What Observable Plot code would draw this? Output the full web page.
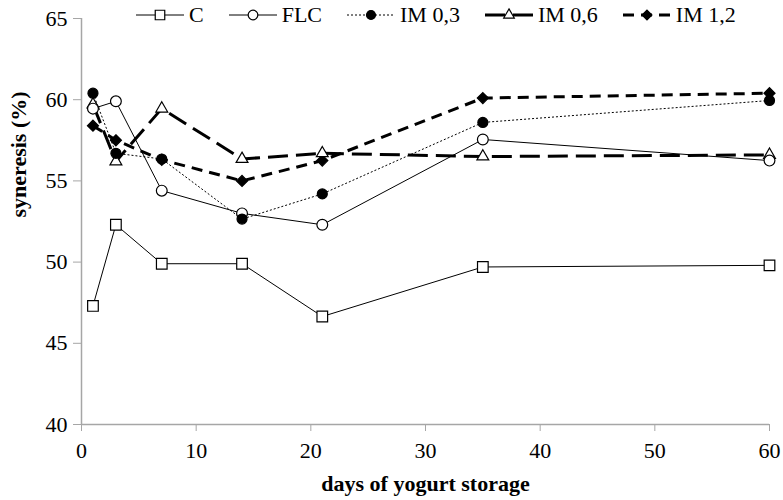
<!DOCTYPE html>
<html><head><meta charset="utf-8">
<script src="https://cdn.jsdelivr.net/npm/d3@7"></script>
<script src="https://cdn.jsdelivr.net/npm/@observablehq/plot@0.6"></script>
<style>
body{margin:0;background:#fff;}
#wrap{position:relative;width:783px;height:500px;font-family:"Liberation Serif","Times New Roman",serif;}
#legend{position:absolute;top:0;left:136px;height:30px;display:flex;align-items:center;font-size:22px;color:#000;}
#legend .item{display:flex;align-items:center;margin-right:25px;}
#legend .item span{margin-left:5px;line-height:30px;}
#wrap svg text{fill:#000 !important;font-family:"Liberation Serif","Times New Roman",serif !important;font-size:22px !important;}
</style></head><body><div id="wrap"></div>
<script>
// ---- data ----
const days = [1, 3, 7, 14, 21, 35, 60];
const seriesNames = ["C", "FLC", "IM 0,3", "IM 0,6", "IM 1,2"];
const valC    = [47.3, 52.3, 49.9, 49.9, 46.65, 49.7, 49.8];
const valFLC  = [59.45, 59.9, 54.4, 53.0, 52.3, 57.55, 56.25];
const valIM03 = [60.4, 56.7, 56.35, 52.65, 54.2, 58.6, 59.95];
const valIM06 = [59.7, 56.2, 59.45, 56.35, 56.7, 56.5, 56.6];
const valIM12 = [58.4, 57.5, 56.3, 55.0, 56.25, 60.1, 60.4];
const xTicks = [0, 10, 20, 30, 40, 50, 60];
const yTicks = [40, 45, 50, 55, 60, 65];
const xTitle = "days of yogurt storage";
const yTitle = "syneresis (%)";

const values = [valC, valFLC, valIM03, valIM06, valIM12];
const rows = [];
seriesNames.forEach((s, k) => days.forEach((d, i) => rows.push({series: s, day: d, value: values[k][i]})));

// custom diamond (rotated square)
const diamond = {draw(ctx, size) {
  const h = Math.sqrt(size / 2);
  ctx.moveTo(0, -h); ctx.lineTo(h, 0); ctx.lineTo(0, h); ctx.lineTo(-h, 0); ctx.closePath();
}};

const styles = {
  "C":      {sw: 1, dash: null,   symbol: "square",   r: 6.0, fill: "white"},
  "FLC":    {sw: 1, dash: null,   symbol: "circle",   r: 5.4, fill: "white"},
  "IM 0,3": {sw: 1, dash: "2,2",  symbol: "circle",   r: 5.0, fill: "black"},
  "IM 0,6": {sw: 3, dash: "20,8", symbol: "triangle", r: 4.4, fill: "white"},
  "IM 1,2": {sw: 3, dash: "11,7", symbol: diamond,    r: 4.4, fill: "black"}
};

const marks = [
  Plot.ruleX([0], {stroke: "#a6a6a6", strokeWidth: 1.5}),
  Plot.ruleY([40], {stroke: "#a6a6a6", strokeWidth: 1.5})
];
for (const s of seriesNames) {
  const st = styles[s];
  marks.push(Plot.line(rows.filter(d => d.series === s), {
    x: "day", y: "value", stroke: "black", strokeWidth: st.sw,
    strokeDasharray: st.dash || undefined, strokeLinejoin: "miter", strokeLinecap: "butt"
  }));
}
for (const s of ["IM 1,2", "IM 0,6", "FLC", "IM 0,3", "C"]) {
  const st = styles[s];
  marks.push(Plot.dot(rows.filter(d => d.series === s), {
    x: "day", y: "value", symbol: st.symbol, r: st.r, fill: st.fill, stroke: "black", strokeWidth: 1.2
  }));
}
marks.push(Plot.text([xTitle], {text: d => d, frameAnchor: "bottom", dy: 66, fontWeight: "bold"}));
marks.push(Plot.text([yTitle], {text: d => d, frameAnchor: "left", dx: -63, dy: -4, rotate: -90, fontWeight: "bold"}));

const chart = Plot.plot({
  width: 783, height: 500,
  marginLeft: 81, marginRight: 14, marginTop: 18, marginBottom: 76,
  x: {domain: [0, 60], ticks: xTicks, tickSize: 7, tickPadding: 11, label: null},
  y: {domain: [40, 65], ticks: yTicks, tickSize: 8, tickPadding: 6, label: null},
  style: {background: "white", color: "#a6a6a6", fontFamily: "Liberation Serif", fontSize: "22px", overflow: "visible"},
  marks
});
const wrap = document.getElementById("wrap");
wrap.appendChild(chart);

// legend
const legend = d3.select(wrap).append("div").attr("id", "legend");
for (const s of seriesNames) {
  const st = styles[s];
  const it = legend.append("div").attr("class", "item");
  const sv = it.append("svg").attr("width", 48).attr("height", 30);
  sv.append("line").attr("x1", 0).attr("x2", 48).attr("y1", 15).attr("y2", 15)
    .attr("stroke", "black").attr("stroke-width", st.sw)
    .attr("stroke-dasharray", st.dash);
  const type = st.symbol === "square" ? d3.symbolSquare : st.symbol === "circle" ? d3.symbolCircle
    : st.symbol === "triangle" ? d3.symbolTriangle : st.symbol;
  sv.append("path").attr("transform", "translate(24,15)")
    .attr("d", d3.symbol(type, Math.PI * st.r * st.r * 0.8)())
    .attr("fill", st.fill).attr("stroke", "black").attr("stroke-width", 1.2);
  it.append("span").text(s);
}
</script></body></html>
